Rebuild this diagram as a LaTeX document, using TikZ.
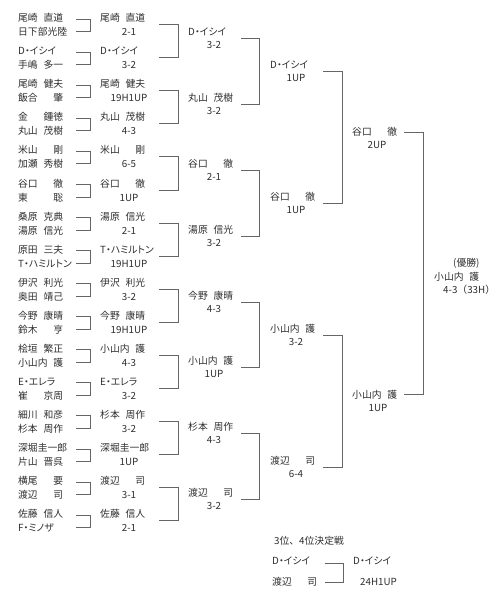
\documentclass[tikz,border=0pt]{standalone}
\usepackage{fontspec}
\setmainfont[RawFeature=+palt]{Noto Sans CJK JP}
\newfontfamily\jpfw{Noto Sans CJK JP}
\newcommand\nm[2]{\makebox[45pt][l]{#1\hfill#2}}
\newcommand\rone[5]{%
  \pgfmathsetmacro\ya{18+33.07*#1}%
  \node[anchor=west] (pa#1) at (18,\ya) {#2};
  \node[anchor=west] (pb#1) at (18,\ya+14) {#3};
  \coordinate (ta#1) at (76,\ya+1);
  \coordinate (tb#1) at (76,\ya+13.5);
  \draw[br] (ta#1) -| (tb#1 -| 90,0) -- (tb#1);
  \node[anchor=west] (w#1) at (100,\ya) {#4};
  \node (ws#1) at (129,\ya+14) {#5};
}
\newcommand\rtwo[3]{%
  \pgfmathsetmacro\yb{32+65.86*#1}%
  \node[anchor=west] (q#1) at (188,\yb) {#2};
  \node (qs#1) at (214,\yb+13) {#3};
}
\newcommand\rthree[3]{%
  \pgfmathsetmacro\yc{65+132*#1}%
  \node[anchor=west] (r#1) at (270,\yc) {#2};
  \node (rs#1) at (296,\yc+12.5) {#3};
}
\begin{document}
\begin{tikzpicture}[x=1pt,y=-1pt,
  every node/.style={inner sep=0pt, text=black!82, font=\fontsize{9.8}{12}\selectfont, text height=8.5pt, text depth=1.2pt},
  br/.style={draw=black!60, line width=0.7pt}]
\useasboundingbox (0,0) rectangle (503,600);
% round 1
\rone{0}{\nm{尾崎}{直道}}{日下部光陸}{\nm{尾崎}{直道}}{2-1}
\rone{1}{D・イシイ}{\nm{手嶋}{多一}}{D・イシイ}{3-2}
\rone{2}{\nm{尾崎}{健夫}}{\nm{飯合}{肇}}{\nm{尾崎}{健夫}}{19H1UP}
\rone{3}{\nm{金}{鍾徳}}{\nm{丸山}{茂樹}}{\nm{丸山}{茂樹}}{4-3}
\rone{4}{\nm{米山}{剛}}{\nm{加瀬}{秀樹}}{\nm{米山}{剛}}{6-5}
\rone{5}{\nm{谷口}{徹}}{\nm{東}{聡}}{\nm{谷口}{徹}}{1UP}
\rone{6}{\nm{桑原}{克典}}{\nm{湯原}{信光}}{\nm{湯原}{信光}}{2-1}
\rone{7}{\nm{原田}{三夫}}{T・ハミルトン}{T・ハミルトン}{19H1UP}
\rone{8}{\nm{伊沢}{利光}}{\nm{奥田}{靖己}}{\nm{伊沢}{利光}}{3-2}
\rone{9}{\nm{今野}{康晴}}{\nm{鈴木}{亨}}{\nm{今野}{康晴}}{19H1UP}
\rone{10}{\nm{桧垣}{繁正}}{\nm{小山内}{護}}{\nm{小山内}{護}}{4-3}
\rone{11}{E・エレラ}{\nm{崔}{京周}}{E・エレラ}{3-2}
\rone{12}{\nm{細川}{和彦}}{\nm{杉本}{周作}}{\nm{杉本}{周作}}{3-2}
\rone{13}{深堀圭一郎}{\nm{片山}{晋呉}}{深堀圭一郎}{1UP}
\rone{14}{\nm{横尾}{要}}{\nm{渡辺}{司}}{\nm{渡辺}{司}}{3-1}
\rone{15}{\nm{佐藤}{信人}}{F・ミノザ}{\nm{佐藤}{信人}}{2-1}
% round 2 brackets
\foreach \j in {0,...,7}{
  \pgfmathsetmacro\yt{18+33.07*(2*\j)+6.5}
  \pgfmathsetmacro\yu{18+33.07*(2*\j+1)+6.5}
  \draw[br] (159,\yt) -| (178,\yu) -- (159,\yu);
}
\rtwo{0}{D・イシイ}{3-2}
\rtwo{1}{\nm{丸山}{茂樹}}{3-2}
\rtwo{2}{\nm{谷口}{徹}}{2-1}
\rtwo{3}{\nm{湯原}{信光}}{3-2}
\rtwo{4}{\nm{今野}{康晴}}{4-3}
\rtwo{5}{\nm{小山内}{護}}{1UP}
\rtwo{6}{\nm{杉本}{周作}}{4-3}
\rtwo{7}{\nm{渡辺}{司}}{3-2}
% round 3 brackets
\foreach \k in {0,...,3}{
  \pgfmathsetmacro\yt{32+65.86*(2*\k)+6.5}
  \pgfmathsetmacro\yu{32+65.86*(2*\k+1)+6.5}
  \draw[br] (241,\yt) -| (259,\yu) -- (241,\yu);
}
\rthree{0}{D・イシイ}{1UP}
\rthree{1}{\nm{谷口}{徹}}{1UP}
\rthree{2}{\nm{小山内}{護}}{3-2}
\rthree{3}{\nm{渡辺}{司}}{6-4}
% round 4 brackets
\foreach \m in {0,1}{
  \pgfmathsetmacro\yt{65+132*(2*\m)+6}
  \pgfmathsetmacro\yu{65+132*(2*\m+1)+6}
  \draw[br] (323,\yt) -| (342,\yu) -- (323,\yu);
}
% semifinal winners
\node[anchor=west] (sa) at (352,132) {\nm{谷口}{徹}};
\node (sas) at (377,144.5) {2UP};
\node[anchor=west] (sb) at (352,395) {\nm{小山内}{護}};
\node (sbs) at (378,407.5) {1UP};
\coordinate (fa) at (404,132);
\coordinate (fb) at (404,394);
\draw[br] (fa) -| (fb -| 423,0) -- (fb);
% champion
\node[anchor=west] (cha) at (453,263) {(優勝)};
\node[anchor=west] (chb) at (434,277) {\nm{小山内}{護}};
\node[anchor=west] (chc) at (443,290) {\jpfw 4-3（33H）};
% third place
\node[anchor=west] (tt) at (274,541) {\jpfw 3位、4位決定戦};
\node[anchor=west] (ta) at (272,561) {D・イシイ};
\node[anchor=west] (tb) at (272,582) {\nm{渡辺}{司}};
\coordinate (tc) at (325,563);
\coordinate (td) at (325,582);
\draw[br] (tc) -| (td -| 343,0) -- (td);
\node[anchor=west] (tw) at (353,561) {D・イシイ};
\node[anchor=west] (tws) at (360,582) {24H1UP};
\end{tikzpicture}
\end{document}
